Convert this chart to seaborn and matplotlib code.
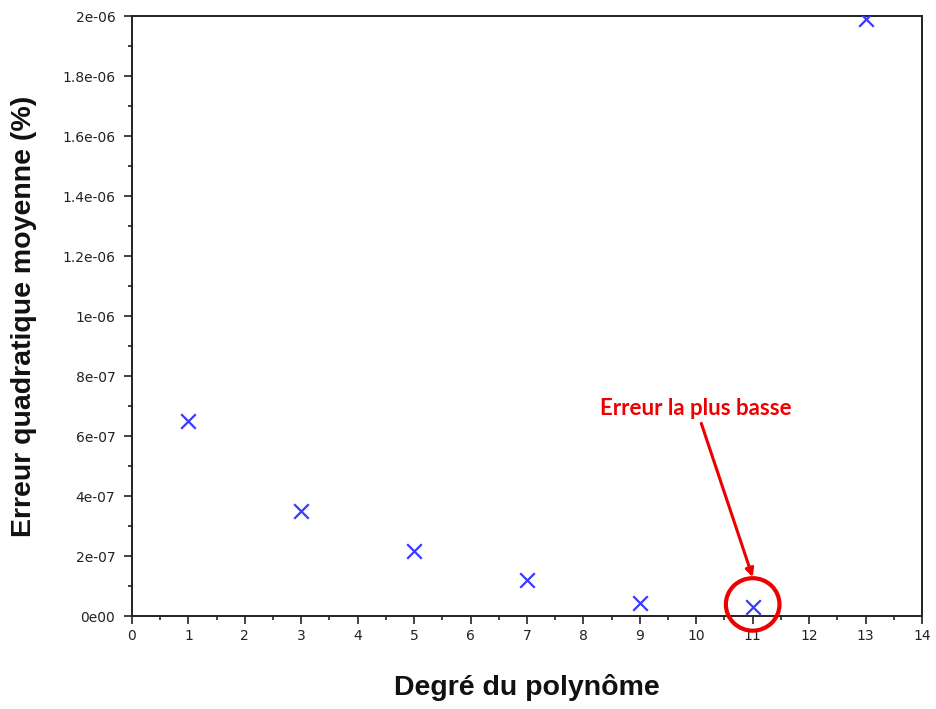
import matplotlib
matplotlib.use("Agg")
import matplotlib.pyplot as plt
import seaborn as sns
import pandas as pd
from matplotlib.patches import Ellipse
from matplotlib.ticker import MultipleLocator

# polynomial degree vs mean squared error
degres = [1, 3, 5, 7, 9, 11, 13]
erreurs = [6.5e-07, 3.5e-07, 2.17e-07, 1.2e-07, 4.3e-08, 3.0e-08, 1.99e-06]
y_ticks = [0, 2e-07, 4e-07, 6e-07, 8e-07, 1e-06, 1.2e-06, 1.4e-06, 1.6e-06, 1.8e-06, 2e-06]
y_labels = ["0e00", "2e-07", "4e-07", "6e-07", "8e-07", "1e-06",
            "1.2e-06", "1.4e-06", "1.6e-06", "1.8e-06", "2e-06"]

df = pd.DataFrame({"degre": degres, "erreur": erreurs})

sns.set_style("white")
plt.rcParams['font.family'] = ['Liberation Sans', 'DejaVu Sans']

fig = plt.figure(figsize=(9.36, 7.09), dpi=100)
ax = fig.add_axes([0.141, 0.131, 0.844, 0.846])

sns.scatterplot(data=df, x="degre", y="erreur", marker="x", color="#3b3bff",
                s=110, linewidth=1.6, ax=ax, clip_on=True, zorder=3)

ax.set_xlim(0, 14)
ax.set_ylim(0, 2e-06)
ax.set_xticks(range(0, 15))
ax.xaxis.set_minor_locator(MultipleLocator(0.5))
ax.set_yticks(y_ticks)
ax.set_yticklabels(y_labels)
ax.yaxis.set_minor_locator(MultipleLocator(1e-07))
ax.tick_params(which="major", direction="out", length=6, width=1.2,
               colors="#222222", labelsize=10, left=True, bottom=True,
               labelcolor="#222222")
ax.tick_params(axis="y", which="major", pad=6)
ax.tick_params(which="minor", direction="out", length=3, width=1.2,
               colors="#222222", left=True, bottom=True)
for lab in ax.get_xticklabels() + ax.get_yticklabels():
    lab.set_family("DejaVu Sans")
for sp in ax.spines.values():
    sp.set_color("#222222")
    sp.set_linewidth(1.4)

ax.set_xlabel("Degré du polynôme", fontsize=20.5, fontweight="bold",
              color="#111111", labelpad=22)
ax.set_ylabel("Erreur quadratique moyenne (%)", fontsize=20.5, fontweight="bold",
              color="#111111", labelpad=18)

# highlight lowest error
x_min = degres[erreurs.index(min(erreurs))]
y_min = min(erreurs)
circ = Ellipse((x_min, y_min + 0.9e-08), width=0.95, height=0.175e-06, fill=False,
               edgecolor="#ee0000", linewidth=3, zorder=4, clip_on=False)
ax.add_patch(circ)
ax.annotate("Erreur la plus basse", xy=(x_min, 1.3e-07), xytext=(10.0, 6.93e-07),
            ha="center", va="center", fontsize=16, fontweight="bold",
            color="#ee0000", family=["Lato", "DejaVu Sans"],
            arrowprops=dict(arrowstyle="-|>", color="#ee0000", lw=2.2,
                            mutation_scale=12, shrinkA=1, shrinkB=0))

fig.savefig("out.png", dpi=100)
